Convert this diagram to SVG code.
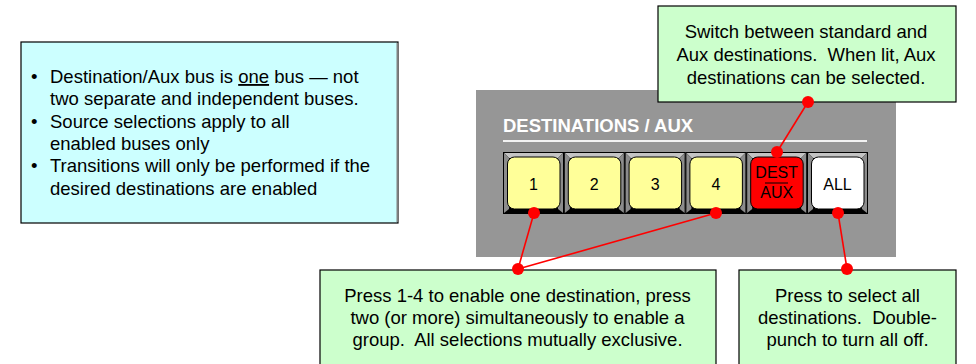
<svg xmlns="http://www.w3.org/2000/svg" width="976" height="364" viewBox="0 0 976 364">
<style>
text{font-family:"Liberation Sans",Arial,sans-serif;fill:#000;white-space:pre}
.note{font-size:18.5px}
.ctr{text-anchor:middle}
.box{stroke:#000;stroke-width:1.2}
.blue{fill:#CCFFFF}
.green{fill:#CCFFCC}
.cell{fill:#000}
.bt{fill:#C4C4C4}
.bs{fill:#8C8C8C}
.btn{stroke:#000;stroke-width:1}
.lbl{font-size:16px;text-anchor:middle}
.con{stroke:#FF0000;stroke-width:1.6;fill:none}
.dot{fill:#FF0000}
</style>
<defs>
<g id="cellbase">
<rect x="0" y="0" width="61" height="62" class="cell"/>
<polygon points="1,1 60,1 55,6 6,6" class="bt"/>
<polygon points="1,1 6,6 6,57 1,61" class="bs"/>
<polygon points="60,1 55,6 55,57 60,61" class="bs"/>
</g>
</defs>

<g id="info-box">
<rect x="21" y="42" width="377" height="181" class="box blue"/>
<line x1="397.5" y1="43" x2="397.5" y2="222" stroke="#808080" stroke-width="2"/>
<g class="note">
<text x="31" y="83">•</text>
<text x="50" y="83">Destination/Aux bus is <tspan text-decoration="underline">one</tspan> bus — not</text>
<text x="50" y="105.3">two separate and independent buses.</text>
<text x="31" y="127.6">•</text>
<text x="50" y="127.6">Source selections apply to all</text>
<text x="50" y="149.9">enabled buses only</text>
<text x="31" y="172.2">•</text>
<text x="50" y="172.2">Transitions will only be performed if the</text>
<text x="50" y="194.5">desired destinations are enabled</text>
</g>
</g>

<g id="panel">
<rect x="476" y="90" width="420" height="167" fill="#969696"/>
<text x="503" y="132" font-size="18.5" font-weight="bold" style="fill:#FFFFFF">DESTINATIONS / AUX</text>
<line x1="503" y1="141" x2="867" y2="141" stroke="#F2F2F2" stroke-width="2"/>
</g>

<g id="btn-1">
<use href="#cellbase" x="503" y="152"/>
<rect x="507.5" y="157" width="52.5" height="52" rx="7" fill="#FFFF99" class="btn"/>
<text x="533.5" y="189.5" class="lbl">1</text>
</g>
<g id="btn-2">
<use href="#cellbase" x="563.8" y="152"/>
<rect x="568.3" y="157" width="52.5" height="52" rx="7" fill="#FFFF99" class="btn"/>
<text x="594.3" y="189.5" class="lbl">2</text>
</g>
<g id="btn-3">
<use href="#cellbase" x="624.6" y="152"/>
<rect x="629.1" y="157" width="52.5" height="52" rx="7" fill="#FFFF99" class="btn"/>
<text x="655.1" y="189.5" class="lbl">3</text>
</g>
<g id="btn-4">
<use href="#cellbase" x="685.4" y="152"/>
<rect x="689.9" y="157" width="52.5" height="52" rx="7" fill="#FFFF99" class="btn"/>
<text x="715.9" y="189.5" class="lbl">4</text>
</g>
<g id="btn-dest-aux">
<use href="#cellbase" x="746.2" y="152"/>
<rect x="750.7" y="157" width="52.5" height="52" rx="7" fill="#FF0000" class="btn"/>
<text x="776.7" y="178" class="lbl">DEST</text>
<line x1="765" y1="183" x2="788" y2="183" stroke="#000" stroke-width="1"/>
<text x="776.7" y="198" class="lbl">AUX</text>
</g>
<g id="btn-all">
<use href="#cellbase" x="807" y="152"/>
<rect x="811.5" y="157" width="52.5" height="52" rx="7" fill="#FFFFFF" class="btn"/>
<text x="837.5" y="189.5" class="lbl">ALL</text>
</g>

<g id="note-dest-aux">
<rect x="658" y="6" width="298" height="96" class="box green"/>
<g class="note ctr">
<text x="806" y="38.3">Switch between standard and</text>
<text x="806" y="61">Aux destinations.  When lit, Aux</text>
<text x="806" y="84">destinations can be selected.</text>
</g>
</g>

<g id="note-1-4">
<rect x="320" y="270" width="396" height="110" class="box green"/>
<g class="note ctr">
<text x="517.5" y="301.7">Press 1-4 to enable one destination, press</text>
<text x="517.5" y="324">two (or more) simultaneously to enable a</text>
<text x="517.5" y="346.3">group.  All selections mutually exclusive.</text>
</g>
</g>

<g id="note-all">
<rect x="739" y="270" width="217" height="110" class="box green"/>
<g class="note ctr">
<text x="847.5" y="301.7">Press to select all</text>
<text x="847.5" y="324">destinations.  Double-</text>
<text x="847.5" y="346.3">punch to turn all off.</text>
</g>
</g>

<g id="connectors">
<line x1="777" y1="152" x2="808" y2="102" class="con"/>
<line x1="534" y1="213" x2="518" y2="269" class="con"/>
<line x1="716" y1="213" x2="518" y2="269" class="con"/>
<line x1="838" y1="213" x2="847" y2="269" class="con"/>
<circle cx="777" cy="152" r="6" class="dot"/>
<circle cx="808" cy="102" r="6" class="dot"/>
<circle cx="534" cy="213" r="6" class="dot"/>
<circle cx="716" cy="213" r="6" class="dot"/>
<circle cx="518" cy="269" r="6" class="dot"/>
<circle cx="838" cy="213" r="6" class="dot"/>
<circle cx="847" cy="269" r="6" class="dot"/>
</g>
</svg>
